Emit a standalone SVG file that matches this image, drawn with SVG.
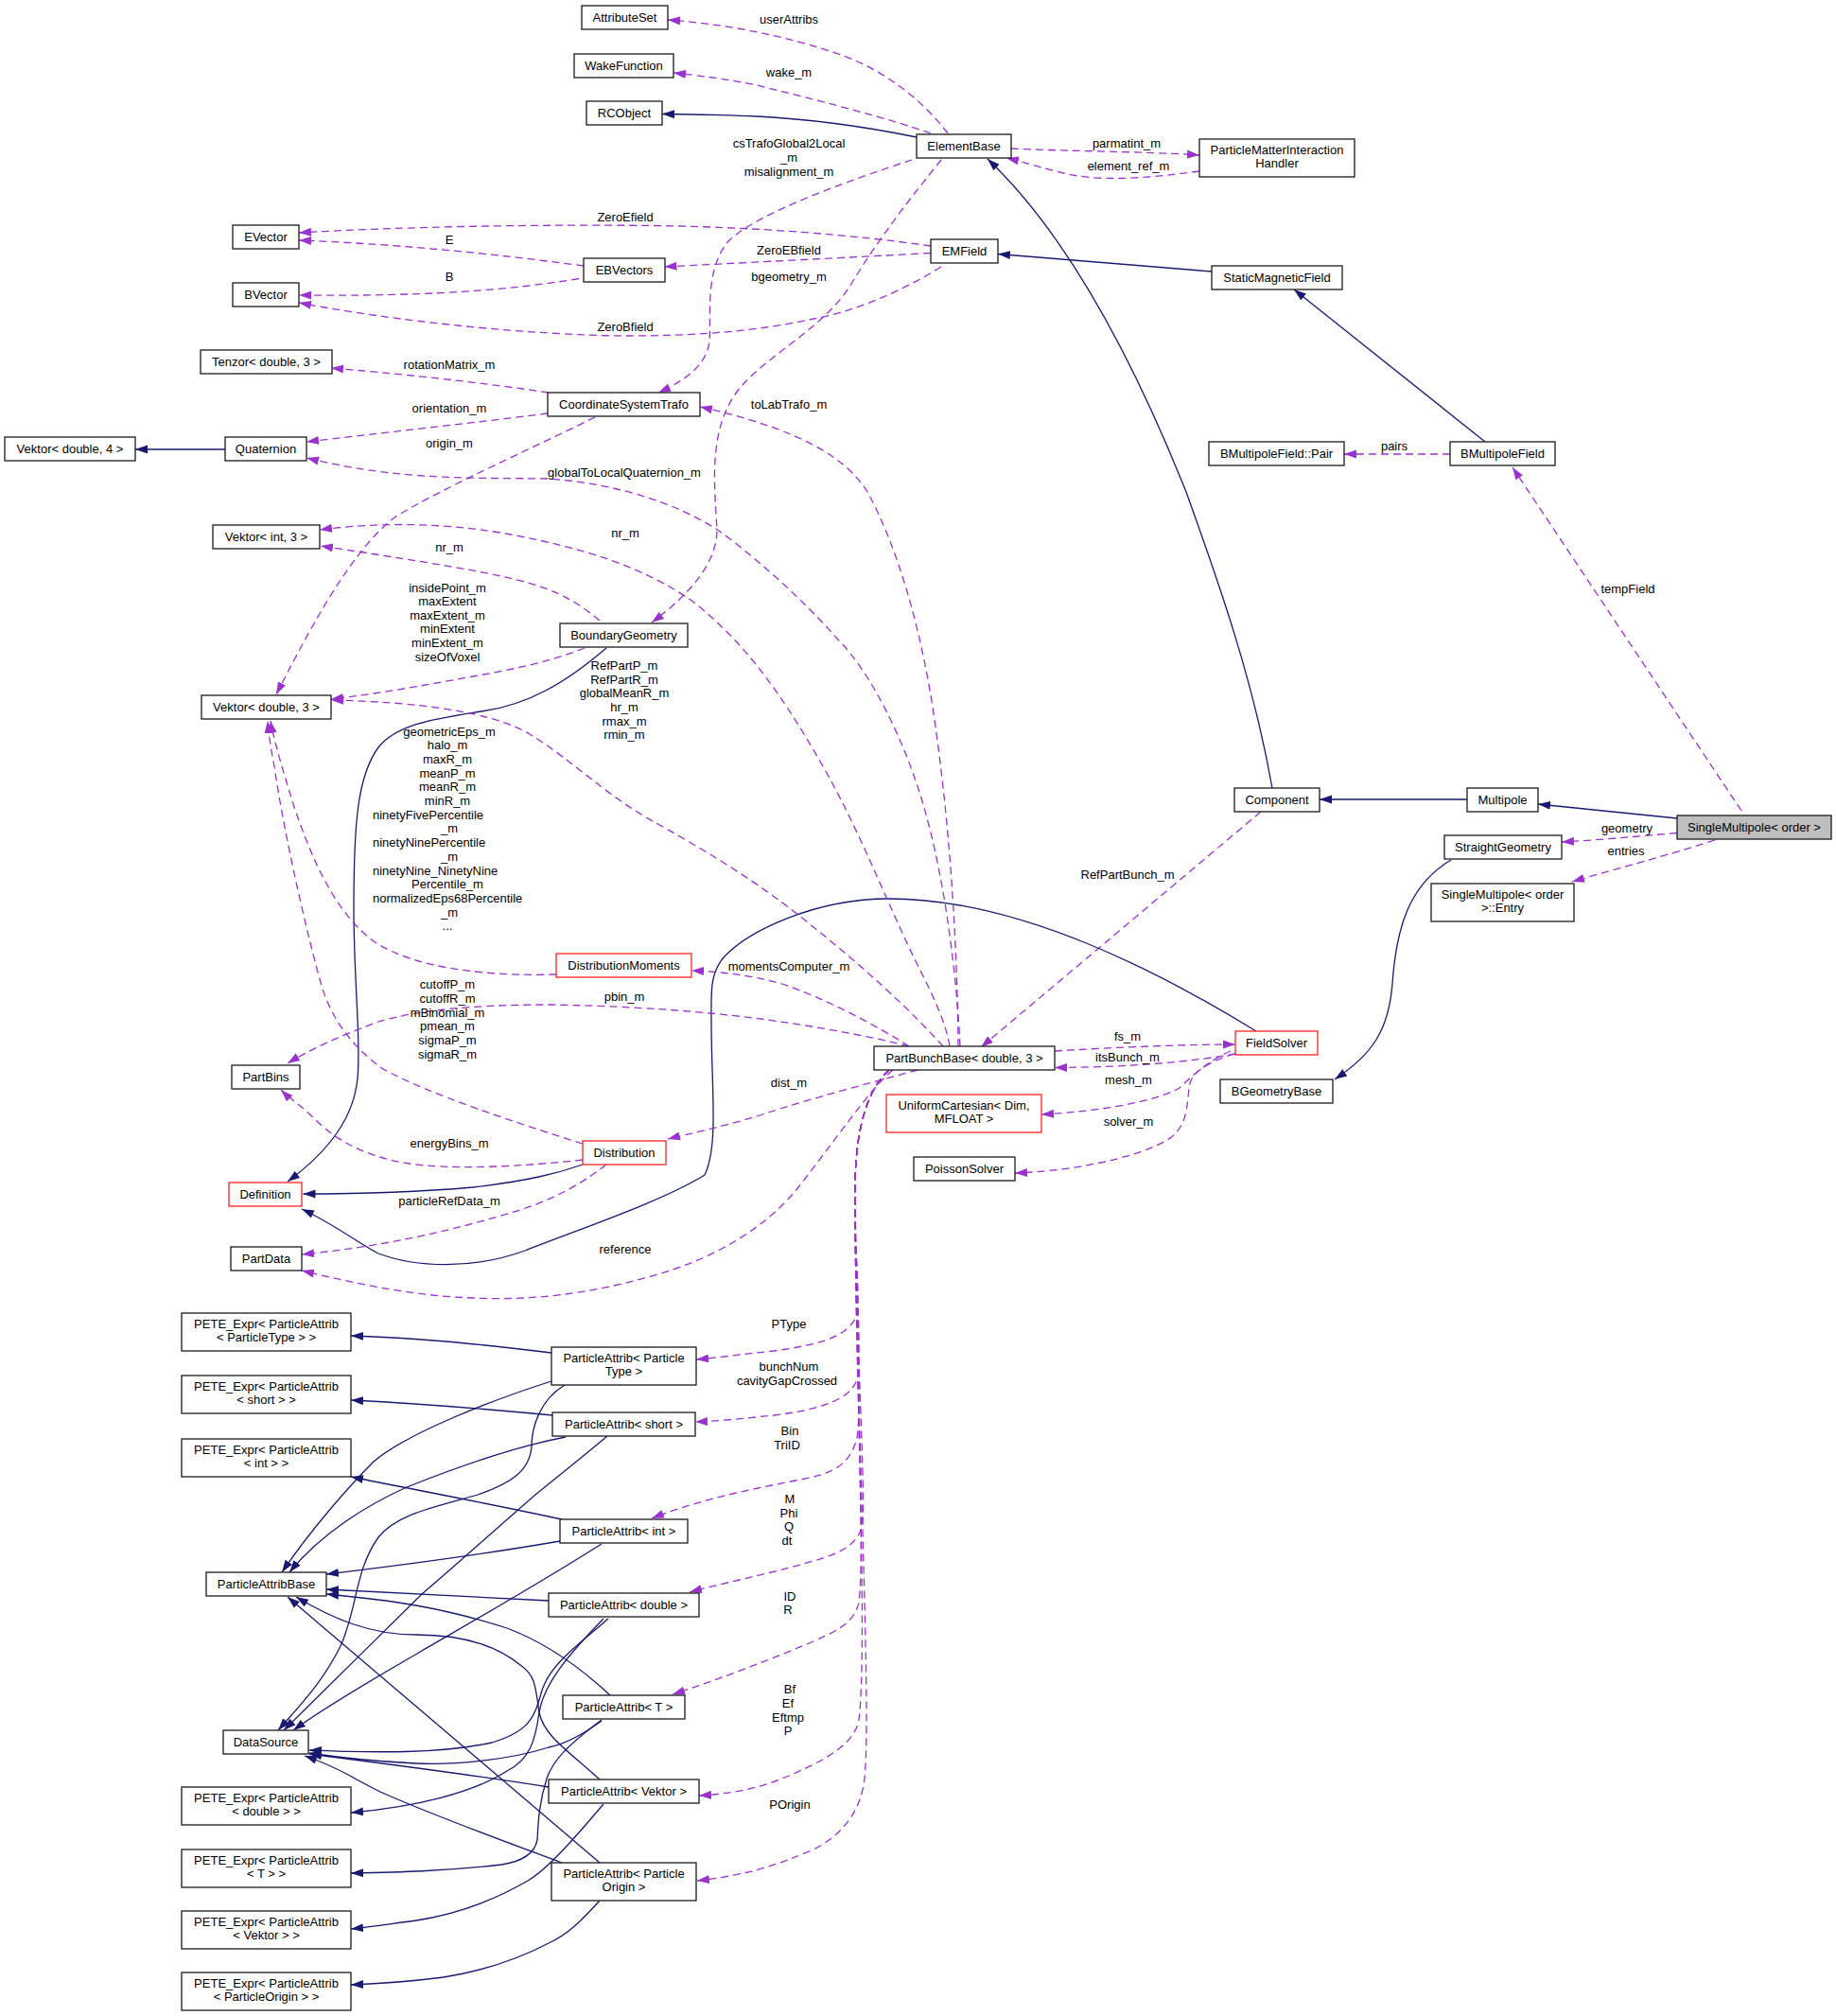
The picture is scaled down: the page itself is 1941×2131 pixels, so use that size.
<svg xmlns="http://www.w3.org/2000/svg" width="1941" height="2131" viewBox="0 0 1941 2131">
<style>
.nd rect{fill:#fff;stroke:#1a1a1a;stroke-width:1.3}
.nd.red rect{stroke:#ff2020}
.nd.focus rect{fill:#bfbfbf}
text{font-family:"Liberation Sans",Arial,Helvetica,sans-serif;font-size:13px;fill:#000;text-anchor:middle}
text.l{text-anchor:start}
#edges path{fill:none;stroke-width:1.3}
#edges path.i{stroke:#191970;marker-end:url(#ai)}
#edges path.u{stroke:#9a32cd;stroke-dasharray:8,5;marker-end:url(#au)}
</style>
<defs>
<marker id="ai" markerUnits="userSpaceOnUse" markerWidth="14" markerHeight="10" refX="13" refY="5" orient="auto"><path d="M0,0.5 L13,5 L0,9.5z" fill="#191970"/></marker>
<marker id="au" markerUnits="userSpaceOnUse" markerWidth="14" markerHeight="10" refX="13" refY="5" orient="auto"><path d="M0,0.5 L13,5 L0,9.5z" fill="#9a32cd"/></marker>
</defs>
<rect width="1941" height="2131" fill="#fff"/>
<g id="edges">
<path class="u" d="M1002,141 C975,105 930,70 880,55 C820,35 760,25 706,21"/>
<path class="u" d="M984,141 C940,125 860,105 800,90 C760,82 730,79 712,77"/>
<path class="i" d="M969,145 C920,135 860,126 800,123 C760,121 730,121 700,120.5"/>
<path class="u" d="M1069,157 C1130,160 1210,160 1268,164"/>
<path class="u" d="M1268,181 C1230,186 1180,192 1140,186 C1110,181 1090,173 1064,167"/>
<path class="i" d="M1345,833 C1325,720 1290,620 1254,520 C1190,360 1120,240 1044,168"/>
<path class="u" d="M984,260 C900,248 800,240 690,238.5 C560,237 420,240 316,246"/>
<path class="u" d="M617,281 C520,268 420,258 316,254"/>
<path class="u" d="M612,294.5 C520,310 420,313 316,312"/>
<path class="u" d="M984,267.5 C880,273 780,278 702.5,282"/>
<path class="u" d="M995,282 C950,310 900,330 860,337 C800,350 740,355 660,355 C560,354 420,340 316,320"/>
<path class="u" d="M964,169 C900,190 800,225 770,255 C745,285 752,330 750,360 C748,385 725,402 696,415"/>
<path class="u" d="M995,169 C970,200 930,250 900,300 C870,350 800,380 775,420 C750,460 755,510 758,560 C758,600 720,635 689,658"/>
<path class="i" d="M1281,287 C1200,280 1120,274 1055,268.5"/>
<path class="i" d="M1570,467 L1368,306"/>
<path class="u" d="M1533,480 L1421,480"/>
<path class="u" d="M1841,857 L1599,494"/>
<path class="i" d="M1773,865 L1626,850"/>
<path class="i" d="M1551,845 L1395,845"/>
<path class="u" d="M1773,880.5 C1730,884 1690,888 1651,890"/>
<path class="u" d="M1813,888 C1760,905 1710,918 1662,932"/>
<path class="i" d="M1534,909 C1490,935 1476,980 1472,1040 C1468,1090 1450,1115 1411,1141"/>
<path class="u" d="M1333,858 L1037,1107"/>
<path class="i" d="M1328,1090 C1230,1030 1080,950 940,950 C860,950 790,985 765,1012 C750,1030 752,1050 752,1080 C752,1150 760,1210 745,1242 C700,1270 610,1300 555,1322 C500,1342 440,1340 400,1325 C380,1315 355,1295 319,1278"/>
<path class="i" d="M641,685 C600,720 560,745 509,752 C460,760 420,765 400,790 C378,820 374,870 374,960 C374,1040 382,1100 378,1140 C374,1180 350,1215 304,1249"/>
<path class="i" d="M616,1231 C590,1240 560,1248 500,1255 C420,1262 360,1262 320.5,1262"/>
<path class="u" d="M616,1226 C560,1232 500,1236 450,1232 C400,1228 360,1210 335,1185 C320,1170 305,1160 297,1152"/>
<path class="u" d="M641,1231 C610,1255 580,1270 540,1282 C470,1303 400,1318 319,1326"/>
<path class="u" d="M616,1209 C540,1185 450,1155 405,1130 C370,1105 350,1075 340,1042 C325,990 300,880 290,810 C286,790 284,775 283,762"/>
<path class="u" d="M588,1030 C520,1032 440,1025 395,995 C355,965 330,910 310,850 C298,810 290,785 286,762"/>
<path class="u" d="M634,656 C610,636 590,625 558,616 C520,605 450,594 339,577"/>
<path class="u" d="M618,685 C580,700 540,708 500,715 C440,726 400,733 350,739"/>
<path class="u" d="M997,1106 C960,1065 910,1020 860,980 C800,930 730,890 690,868 C640,840 600,800 560,776 C520,752 440,742 350,740"/>
<path class="u" d="M1004,1106 C1000,1080 985,1050 970,1020 C940,960 910,880 870,810 C830,740 790,680 730,634 C680,600 620,580 540,565 C470,552 400,552 338,560"/>
<path class="u" d="M1015,1106 C1012,1040 1000,930 975,847 C955,780 920,710 885,675 C850,635 800,590 760,561 C720,535 660,512 580,506 C500,505 420,508 324,484"/>
<path class="u" d="M1013,1106 C1012,1000 1005,880 988,761 C975,670 950,580 917,520 C895,485 850,455 740,430"/>
<path class="u" d="M629,441 C560,475 470,515 420,545 C370,580 320,680 292,734"/>
<path class="u" d="M580,415 C500,403 420,395 350,389"/>
<path class="u" d="M579,437 C500,447 400,458 324,467"/>
<path class="i" d="M238,475 L143,475"/>
<path class="u" d="M961,1106 C920,1080 870,1055 827,1040 C790,1030 760,1027 731,1026"/>
<path class="u" d="M961,1106 C900,1090 800,1075 750,1071 C700,1066 640,1063 580,1062 C500,1062 440,1068 400,1080 C360,1095 330,1108 304,1124"/>
<path class="u" d="M970,1131 C920,1145 860,1160 800,1180 C760,1192 730,1198 706,1204"/>
<path class="u" d="M944,1131 C920,1150 880,1210 840,1260 C810,1295 760,1330 685,1350 C620,1368 560,1375 500,1372 C440,1370 380,1358 319,1343"/>
<path class="u" d="M1115,1111 C1180,1107 1250,1104 1306,1104"/>
<path class="u" d="M1306,1114 C1260,1122 1200,1128 1115,1128.5"/>
<path class="u" d="M1301,1111 C1280,1120 1262,1135 1247,1150 C1220,1165 1160,1175 1101,1178"/>
<path class="u" d="M1305,1114 C1285,1120 1262,1130 1258,1145 C1254,1165 1258,1190 1234,1205 C1200,1225 1130,1238 1073,1240"/>
<path class="u" d="M940,1131 C918,1150 905,1190 904,1250 C903,1320 910,1375 905,1392 C895,1415 860,1422 818,1428 C780,1432 760,1435 736,1437"/>
<path class="u" d="M940,1131 C918,1150 905,1190 904,1250 C903,1330 912,1420 906,1458 C900,1478 870,1490 818,1496 C780,1500 760,1502 735,1503"/>
<path class="u" d="M940,1131 C918,1150 905,1190 904,1250 C903,1350 912,1480 906,1520 C898,1550 880,1558 841,1565 C790,1575 740,1585 689,1605"/>
<path class="u" d="M940,1131 C918,1150 905,1190 904,1250 C903,1380 915,1560 912,1610 C908,1630 895,1640 860,1650 C820,1662 770,1672 729,1683"/>
<path class="u" d="M940,1131 C918,1150 905,1190 904,1250 C903,1400 915,1640 908,1694 C904,1710 895,1720 860,1735 C800,1760 760,1775 711,1791"/>
<path class="u" d="M940,1131 C918,1150 905,1190 904,1250 C903,1420 918,1740 908,1818 C905,1835 890,1850 860,1865 C820,1885 790,1895 739,1898"/>
<path class="u" d="M940,1131 C918,1150 905,1190 904,1250 C903,1440 922,1800 914,1880 C910,1915 890,1940 860,1955 C820,1972 790,1982 737,1988"/>
<path class="i" d="M583,1430 C500,1420 440,1414 371,1412"/>
<path class="i" d="M583,1460 C520,1480 430,1515 395,1545 C370,1570 330,1615 298,1662"/>
<path class="i" d="M597,1464 C570,1480 562,1510 562,1529 C560,1555 540,1568 505,1580 C460,1593 420,1600 400,1625 C375,1660 378,1700 360,1740 C340,1780 315,1805 294,1829"/>
<path class="i" d="M584,1496 C500,1488 430,1483 371,1480"/>
<path class="i" d="M598,1519 C540,1530 480,1552 430,1572 C390,1590 340,1620 306,1662"/>
<path class="i" d="M642,1518 C610,1545 590,1560 566,1580 C520,1620 470,1665 446,1685 C400,1730 340,1790 300,1829"/>
<path class="i" d="M594,1606 C520,1590 440,1575 371,1561"/>
<path class="i" d="M592,1629 C500,1645 420,1655 345,1664"/>
<path class="i" d="M636,1632 C560,1680 480,1725 446,1745 C400,1772 350,1800 310,1829"/>
<path class="i" d="M580,1692 C500,1688 420,1684 345,1680"/>
<path class="i" d="M643,1711 C610,1740 580,1760 572,1790 C565,1815 560,1830 520,1842 C460,1855 390,1852 327,1850"/>
<path class="i" d="M638,1711 C600,1750 575,1780 570,1810 C566,1840 560,1860 536,1872 C500,1895 440,1910 371,1916"/>
<path class="i" d="M645,1792 C600,1750 560,1730 536,1721 C470,1700 420,1692 345,1685"/>
<path class="i" d="M636,1819 C610,1838 590,1845 580,1847 C540,1860 480,1866 440,1864 C400,1862 360,1858 327,1853"/>
<path class="i" d="M636,1818 C600,1845 585,1860 578,1880 C570,1905 569,1925 568,1945 C565,1960 550,1968 530,1971 C470,1978 420,1979 371,1980"/>
<path class="i" d="M634,1881 C600,1850 575,1835 570,1810 C566,1780 565,1770 550,1760 C520,1735 480,1728 440,1728 C390,1728 350,1710 313,1688"/>
<path class="i" d="M580,1889 C500,1876 420,1866 327,1854"/>
<path class="i" d="M638,1907 C610,1940 580,1975 558,1988 C520,2010 480,2024 440,2030 C410,2034 390,2037 371,2039"/>
<path class="i" d="M634,1969 L304,1688"/>
<path class="i" d="M594,1969 C530,1945 460,1920 402,1894 C390,1888 382,1884 370,1877 C355,1869 340,1862 322,1856"/>
<path class="i" d="M634,2009 C615,2030 600,2045 580,2054 C540,2075 500,2085 469,2090 C430,2095 400,2097 371,2098"/>
</g>
<g id="edge-labels">
<text x="834" y="25">userAttribs</text>
<text x="834" y="81">wake_m</text>
<text x="834" y="156">csTrafoGlobal2Local</text>
<text x="834" y="170.5">_m</text>
<text x="834" y="185.5">misalignment_m</text>
<text x="1191" y="156">parmatint_m</text>
<text x="1193" y="180">element_ref_m</text>
<text x="661" y="233.5">ZeroEfield</text>
<text x="475" y="257.5">E</text>
<text x="834" y="269">ZeroEBfield</text>
<text x="475" y="297">B</text>
<text x="834" y="296.5">bgeometry_m</text>
<text x="661" y="350">ZeroBfield</text>
<text x="475" y="390">rotationMatrix_m</text>
<text x="834" y="432">toLabTrafo_m</text>
<text x="475" y="436">orientation_m</text>
<text x="475" y="473">origin_m</text>
<text x="660" y="504">globalToLocalQuaternion_m</text>
<text x="1474" y="476">pairs</text>
<text x="661" y="568">nr_m</text>
<text x="475" y="583">nr_m</text>
<text x="1721" y="626.5">tempField</text>
<text x="473" y="625.5">insidePoint_m</text>
<text x="473" y="640">maxExtent</text>
<text x="473" y="654.5">maxExtent_m</text>
<text x="473" y="669">minExtent</text>
<text x="473" y="684">minExtent_m</text>
<text x="473" y="698.5">sizeOfVoxel</text>
<text x="660" y="708">RefPartP_m</text>
<text x="660" y="722.5">RefPartR_m</text>
<text x="660" y="737">globalMeanR_m</text>
<text x="660" y="752">hr_m</text>
<text x="660" y="766.5">rmax_m</text>
<text x="660" y="781">rmin_m</text>
<text x="475" y="777.5">geometricEps_m</text>
<text x="473" y="792.2">halo_m</text>
<text x="473" y="806.9">maxR_m</text>
<text x="473" y="821.6">meanP_m</text>
<text x="473" y="836.3">meanR_m</text>
<text x="473" y="851">minR_m</text>
<text class="l" x="394" y="865.7">ninetyFivePercentile</text>
<text x="475" y="880.4">_m</text>
<text class="l" x="394" y="895.1">ninetyNinePercentile</text>
<text x="475" y="909.8">_m</text>
<text class="l" x="394" y="924.5">ninetyNine_NinetyNine</text>
<text x="473" y="939.2">Percentile_m</text>
<text class="l" x="394" y="953.9">normalizedEps68Percentile</text>
<text x="475" y="968.6">_m</text>
<text x="473" y="983.3">...</text>
<text x="1192" y="929">RefPartBunch_m</text>
<text x="1720" y="880">geometry</text>
<text x="1719" y="904">entries</text>
<text x="834" y="1026">momentsComputer_m</text>
<text x="473" y="1045">cutoffP_m</text>
<text x="473" y="1060">cutoffR_m</text>
<text x="473" y="1074.5">mBinomial_m</text>
<text x="473" y="1089.3">pmean_m</text>
<text x="473" y="1104">sigmaP_m</text>
<text x="473" y="1118.5">sigmaR_m</text>
<text x="660" y="1058">pbin_m</text>
<text x="1192" y="1099.5">fs_m</text>
<text x="1192" y="1122">itsBunch_m</text>
<text x="1193" y="1145.5">mesh_m</text>
<text x="834" y="1149">dist_m</text>
<text x="1193" y="1190">solver_m</text>
<text x="475" y="1213">energyBins_m</text>
<text x="475" y="1274">particleRefData_m</text>
<text x="661" y="1325">reference</text>
<text x="834" y="1404">PType</text>
<text x="834" y="1449">bunchNum</text>
<text x="832" y="1464">cavityGapCrossed</text>
<text x="835" y="1517">Bin</text>
<text x="832" y="1532">TriID</text>
<text x="835" y="1589">M</text>
<text x="834" y="1604">Phi</text>
<text x="834" y="1618">Q</text>
<text x="832" y="1633">dt</text>
<text x="835" y="1692">ID</text>
<text x="833" y="1706">R</text>
<text x="835" y="1790">Bf</text>
<text x="833" y="1805">Ef</text>
<text x="833" y="1820">Eftmp</text>
<text x="833" y="1834">P</text>
<text x="835" y="1912">POrigin</text>
</g>
<g id="n_AttributeSet" class="nd"><rect x="615" y="6" width="91" height="25"/><text x="660.5" y="23">AttributeSet</text></g>
<g id="n_WakeFunction" class="nd"><rect x="607" y="57" width="105" height="25"/><text x="659.5" y="74">WakeFunction</text></g>
<g id="n_RCObject" class="nd"><rect x="620" y="107" width="80" height="25"/><text x="660" y="124">RCObject</text></g>
<g id="n_ElementBase" class="nd"><rect x="969" y="142" width="100" height="25"/><text x="1019" y="159">ElementBase</text></g>
<g id="n_PMIH" class="nd"><rect x="1268" y="147" width="164" height="40"/><text x="1350" y="162.5">ParticleMatterInteraction</text><text x="1350" y="177">Handler</text></g>
<g id="n_EVector" class="nd"><rect x="246" y="238" width="70" height="25"/><text x="281" y="255">EVector</text></g>
<g id="n_EBVectors" class="nd"><rect x="617" y="273" width="86" height="25"/><text x="660" y="290">EBVectors</text></g>
<g id="n_EMField" class="nd"><rect x="984" y="253" width="71" height="25"/><text x="1019.5" y="270">EMField</text></g>
<g id="n_BVector" class="nd"><rect x="246" y="299" width="70" height="25"/><text x="281" y="316">BVector</text></g>
<g id="n_StaticMagneticField" class="nd"><rect x="1281" y="281" width="138" height="25"/><text x="1350" y="298">StaticMagneticField</text></g>
<g id="n_Tenzor" class="nd"><rect x="212" y="370" width="139" height="25"/><text x="281.5" y="387">Tenzor&lt; double, 3 &gt;</text></g>
<g id="n_CoordinateSystemTrafo" class="nd"><rect x="579" y="415" width="161" height="25"/><text x="659.5" y="432">CoordinateSystemTrafo</text></g>
<g id="n_Vektor_d4" class="nd"><rect x="5" y="462" width="138" height="25"/><text x="74" y="479">Vektor&lt; double, 4 &gt;</text></g>
<g id="n_Quaternion" class="nd"><rect x="238" y="462" width="86" height="25"/><text x="281" y="479">Quaternion</text></g>
<g id="n_BMultipoleFieldPair" class="nd"><rect x="1278" y="467" width="143" height="25"/><text x="1349.5" y="484">BMultipoleField::Pair</text></g>
<g id="n_BMultipoleField" class="nd"><rect x="1533" y="467" width="111" height="25"/><text x="1588.5" y="484">BMultipoleField</text></g>
<g id="n_Vektor_i3" class="nd"><rect x="225" y="555" width="113" height="25"/><text x="281.5" y="572">Vektor&lt; int, 3 &gt;</text></g>
<g id="n_BoundaryGeometry" class="nd"><rect x="592" y="659" width="135" height="25"/><text x="659.5" y="676">BoundaryGeometry</text></g>
<g id="n_Vektor_d3" class="nd"><rect x="213" y="735" width="137" height="25"/><text x="281.5" y="752">Vektor&lt; double, 3 &gt;</text></g>
<g id="n_Component" class="nd"><rect x="1305" y="833" width="90" height="25"/><text x="1350" y="850">Component</text></g>
<g id="n_Multipole" class="nd"><rect x="1551" y="833" width="75" height="25"/><text x="1588.5" y="850">Multipole</text></g>
<g id="n_SingleMultipole" class="nd focus"><rect x="1773" y="862" width="163" height="25"/><text x="1854.5" y="879">SingleMultipole&lt; order &gt;</text></g>
<g id="n_StraightGeometry" class="nd"><rect x="1527" y="883" width="124" height="25"/><text x="1589" y="900">StraightGeometry</text></g>
<g id="n_Entry" class="nd"><rect x="1513" y="934" width="151" height="40"/><text x="1588.5" y="949.5">SingleMultipole&lt; order</text><text x="1588.5" y="964">&gt;::Entry</text></g>
<g id="n_DistributionMoments" class="nd red"><rect x="588" y="1008" width="143" height="25"/><text x="659.5" y="1025">DistributionMoments</text></g>
<g id="n_FieldSolver" class="nd red"><rect x="1306" y="1090" width="87" height="25"/><text x="1349.5" y="1107">FieldSolver</text></g>
<g id="n_PartBunchBase" class="nd"><rect x="924" y="1106" width="191" height="25"/><text x="1019.5" y="1123">PartBunchBase&lt; double, 3 &gt;</text></g>
<g id="n_PartBins" class="nd"><rect x="245" y="1126" width="72" height="25"/><text x="281" y="1143">PartBins</text></g>
<g id="n_BGeometryBase" class="nd"><rect x="1290" y="1141" width="119" height="25"/><text x="1349.5" y="1158">BGeometryBase</text></g>
<g id="n_UniformCartesian" class="nd red"><rect x="937" y="1157" width="164" height="40"/><text x="1019" y="1172.5">UniformCartesian&lt; Dim,</text><text x="1019" y="1187">MFLOAT &gt;</text></g>
<g id="n_Distribution" class="nd red"><rect x="616" y="1206" width="88" height="25"/><text x="660" y="1223">Distribution</text></g>
<g id="n_PoissonSolver" class="nd"><rect x="966" y="1223" width="107" height="25"/><text x="1019.5" y="1240">PoissonSolver</text></g>
<g id="n_Definition" class="nd red"><rect x="242" y="1250" width="77" height="25"/><text x="280.5" y="1267">Definition</text></g>
<g id="n_PartData" class="nd"><rect x="244" y="1318" width="75" height="25"/><text x="281.5" y="1335">PartData</text></g>
<g id="n_PETE_PT" class="nd"><rect x="192" y="1388" width="179" height="40"/><text x="281.5" y="1403.5">PETE_Expr&lt; ParticleAttrib</text><text x="281.5" y="1418">&lt; ParticleType &gt; &gt;</text></g>
<g id="n_PA_PT" class="nd"><rect x="583" y="1424" width="153" height="40"/><text x="659.5" y="1439.5">ParticleAttrib&lt; Particle</text><text x="659.5" y="1454">Type &gt;</text></g>
<g id="n_PETE_short" class="nd"><rect x="192" y="1454" width="179" height="40"/><text x="281.5" y="1469.5">PETE_Expr&lt; ParticleAttrib</text><text x="281.5" y="1484">&lt; short &gt; &gt;</text></g>
<g id="n_PA_short" class="nd"><rect x="584" y="1493" width="151" height="25"/><text x="659.5" y="1510">ParticleAttrib&lt; short &gt;</text></g>
<g id="n_PETE_int" class="nd"><rect x="192" y="1521" width="179" height="40"/><text x="281.5" y="1536.5">PETE_Expr&lt; ParticleAttrib</text><text x="281.5" y="1551">&lt; int &gt; &gt;</text></g>
<g id="n_PA_int" class="nd"><rect x="592" y="1606" width="135" height="25"/><text x="659.5" y="1623">ParticleAttrib&lt; int &gt;</text></g>
<g id="n_ParticleAttribBase" class="nd"><rect x="218" y="1662" width="127" height="25"/><text x="281.5" y="1679">ParticleAttribBase</text></g>
<g id="n_PA_double" class="nd"><rect x="580" y="1684" width="159" height="25"/><text x="659.5" y="1701">ParticleAttrib&lt; double &gt;</text></g>
<g id="n_PA_T" class="nd"><rect x="595" y="1792" width="129" height="25"/><text x="659.5" y="1809">ParticleAttrib&lt; T &gt;</text></g>
<g id="n_DataSource" class="nd"><rect x="236" y="1829" width="90" height="25"/><text x="281" y="1846">DataSource</text></g>
<g id="n_PA_Vektor" class="nd"><rect x="580" y="1881" width="159" height="25"/><text x="659.5" y="1898">ParticleAttrib&lt; Vektor &gt;</text></g>
<g id="n_PETE_double" class="nd"><rect x="192" y="1889" width="179" height="40"/><text x="281.5" y="1904.5">PETE_Expr&lt; ParticleAttrib</text><text x="281.5" y="1919">&lt; double &gt; &gt;</text></g>
<g id="n_PETE_T" class="nd"><rect x="192" y="1955" width="179" height="40"/><text x="281.5" y="1970.5">PETE_Expr&lt; ParticleAttrib</text><text x="281.5" y="1985">&lt; T &gt; &gt;</text></g>
<g id="n_PA_PO" class="nd"><rect x="583" y="1969" width="153" height="40"/><text x="659.5" y="1984.5">ParticleAttrib&lt; Particle</text><text x="659.5" y="1999">Origin &gt;</text></g>
<g id="n_PETE_Vektor" class="nd"><rect x="192" y="2020" width="179" height="40"/><text x="281.5" y="2035.5">PETE_Expr&lt; ParticleAttrib</text><text x="281.5" y="2050">&lt; Vektor &gt; &gt;</text></g>
<g id="n_PETE_PO" class="nd"><rect x="192" y="2085" width="179" height="40"/><text x="281.5" y="2100.5">PETE_Expr&lt; ParticleAttrib</text><text x="281.5" y="2115">&lt; ParticleOrigin &gt; &gt;</text></g>
</svg>
